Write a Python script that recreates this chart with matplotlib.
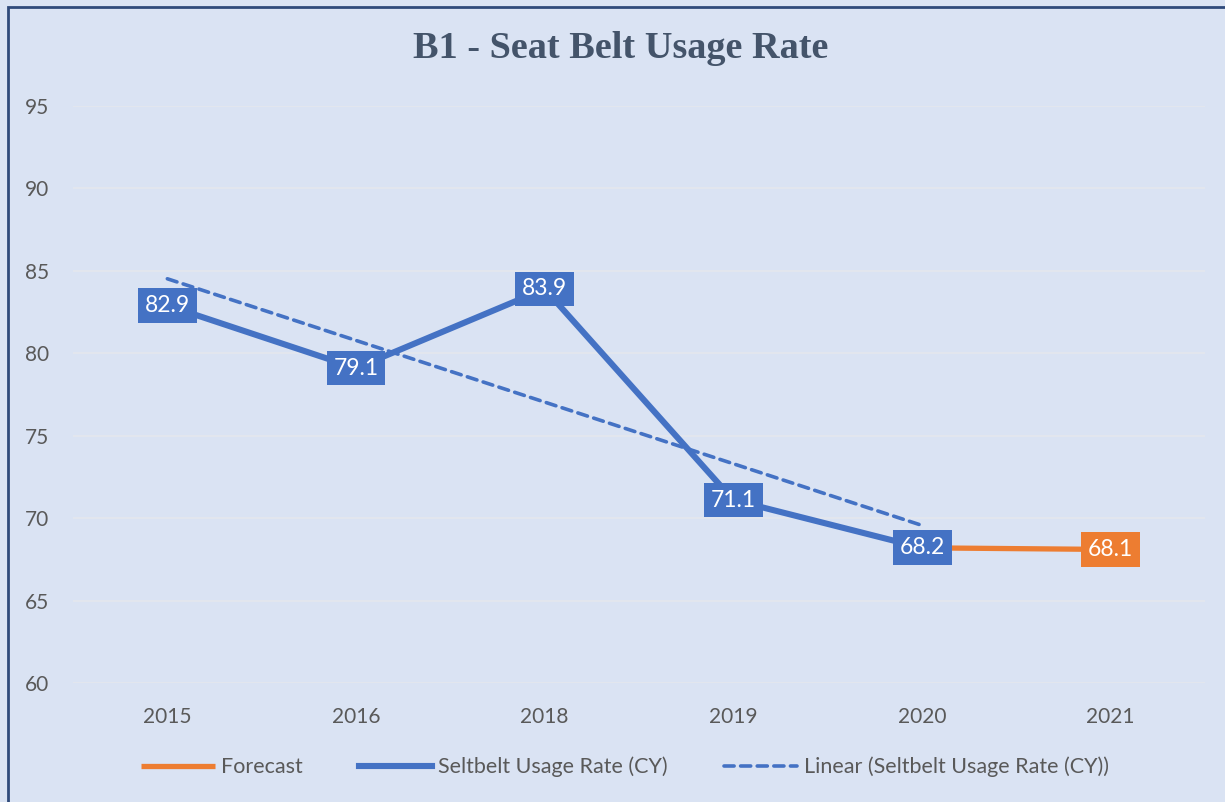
import matplotlib

matplotlib.use("Agg")
import matplotlib.pyplot as plt
import numpy as np
from matplotlib.patches import Rectangle

# chart values
years = ["2015", "2016", "2018", "2019", "2020", "2021"]
usage_rate = [82.9, 79.1, 83.9, 71.1, 68.2]          # Seltbelt Usage Rate (CY)
forecast_years = ["2020", "2021"]
forecast = [68.2, 68.1]
y_ticks = [60, 65, 70, 75, 80, 85, 90, 95]

BG = "#DAE3F3"
BLUE = "#4472C4"
ORANGE = "#ED7D31"
GREY = "#595959"

plt.rcParams["font.family"] = ["Lato", "DejaVu Sans"]

fig = plt.figure(figsize=(12.25, 8.02), dpi=100, facecolor=BG)
ax = fig.add_axes([73 / 1225, 119 / 802, 1132 / 1225, 577 / 802])
ax.set_facecolor(BG)

x_all = np.arange(len(years))
x_usage = x_all[: len(usage_rate)]
x_fc = np.array([years.index(y) for y in forecast_years])

# linear trend of the measured series
slope, icpt = np.polyfit(x_usage, usage_rate, 1)
trend = slope * x_usage + icpt

ax.plot(x_fc, forecast, color=ORANGE, lw=3.8, solid_capstyle="butt", zorder=3, label="Forecast")
ax.plot(x_usage, usage_rate, color=BLUE, lw=4.4, solid_joinstyle="round", zorder=4,
        label="Seltbelt Usage Rate (CY)")
ax.plot(x_usage, trend, color=BLUE, lw=2.6, dashes=(2.8, 1.8), dash_capstyle="round", zorder=5,
        label="Linear (Seltbelt Usage Rate (CY))")

# data labels in filled boxes
box_kw = dict(boxstyle="square,pad=0.3", ec="none")
for xi, v in zip(x_usage, usage_rate):
    ax.text(xi, v, f"{v:.1f}", ha="center", va="center", color="white", fontsize=16.5, zorder=7,
            bbox=dict(fc=BLUE, **box_kw))
ax.text(x_fc[-1], forecast[-1], f"{forecast[-1]:.1f}", ha="center", va="center", color="white",
        fontsize=16.5, zorder=7, bbox=dict(fc=ORANGE, **box_kw))

ax.set_xlim(-0.5, len(years) - 0.5)
ax.set_ylim(60, 95)
ax.set_xticks(x_all)
ax.set_xticklabels(years)
ax.set_yticks(y_ticks)
ax.grid(axis="y", color="#E4E7ED", lw=1.2, zorder=0)
ax.set_axisbelow(True)
for s in ax.spines.values():
    s.set_visible(False)
ax.tick_params(axis="both", length=0, labelsize=15, labelcolor=GREY)
ax.tick_params(axis="y", pad=17)
ax.tick_params(axis="x", pad=17)

fig.text(621 / 1225, 1 - 49 / 802, "B1 - Seat Belt Usage Rate", ha="center", va="center",
         fontsize=27.5, fontweight="bold", color="#44546A", family="Liberation Serif")

handles, labels = ax.get_legend_handles_labels()
leg = fig.legend(handles, labels, loc="center", bbox_to_anchor=(625 / 1225, 1 - 767 / 802),
                 ncol=3, frameon=False, fontsize=15.5, handlelength=3.4, handletextpad=0.3,
                 columnspacing=2.6, labelcolor=GREY)

# chart border
fig.patches.append(Rectangle((8 / 1225, -0.1), 1.2, 1 - 7 / 802 + 0.1, transform=fig.transFigure,
                             fill=False, ec="#2F4A7A", lw=2.0))

fig.savefig("out.png", dpi=100, facecolor=BG)
